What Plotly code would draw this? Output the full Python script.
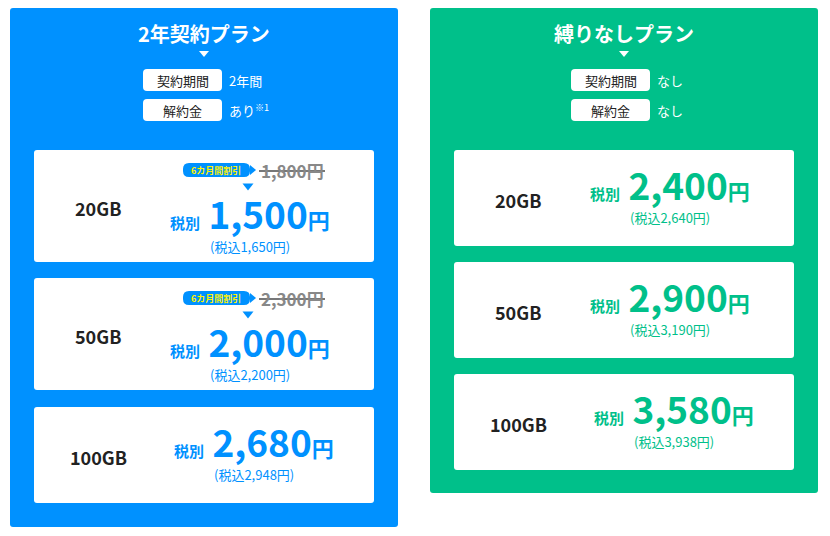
import plotly.graph_objects as go

BLUE = "#0091FF"
GREEN = "#00C08A"
FONT = "Noto Sans CJK JP"

plans = ["2年契約プラン", "縛りなしプラン"]
plan_colors = [BLUE, GREEN]
term_values = ["2年間", "なし"]
fee_values = ["あり<sup>※1</sup>", "なし"]
capacities = ["20GB", "50GB", "100GB"]
prices_2y = ["1,500", "2,000", "2,680"]
taxin_2y = ["1,650", "2,200", "2,948"]
regular_2y = ["1,800", "2,300", None]
prices_free = ["2,400", "2,900", "3,580"]
taxin_free = ["2,640", "3,190", "3,938"]

# panel geometry in pixels (x0, x1, y0, y1)
panels = [(10, 398, 8, 527), (430, 818, 8, 493)]
cards = [[(150, 262), (278, 390), (407, 503)],
         [(150, 246), (262, 358), (374, 470)]]

shapes, ann = [], []


def rect(x0, x1, y0, y1, color, r=3):
    path = (f"M{x0+r},{y0} L{x1-r},{y0} Q{x1},{y0} {x1},{y0+r} L{x1},{y1-r} Q{x1},{y1} {x1-r},{y1} "
            f"L{x0+r},{y1} Q{x0},{y1} {x0},{y1-r} L{x0},{y0+r} Q{x0},{y0} {x0+r},{y0} Z")
    shapes.append(dict(type="path", path=path, fillcolor=color, line_width=0, layer="below"))


def tri(cx, cy, w, h, color):
    shapes.append(dict(type="path", path=f"M{cx-w/2},{cy-h/2} L{cx+w/2},{cy-h/2} L{cx},{cy+h/2} Z",
                       fillcolor=color, line_width=0))


def text(x, y, s, size, color, anchor="center", bold=False):
    ann.append(dict(x=x, y=y, text=f"<b>{s}</b>" if bold else s, showarrow=False, xanchor=anchor,
                    yanchor="middle", font=dict(family=FONT, size=size, color=color)))


for p in range(2):
    x0, x1, y0, y1 = panels[p]
    col = plan_colors[p]
    cx = (x0 + x1) / 2
    rect(x0, x1, y0, y1, col)
    text(cx, 33, plans[p], 20, "white", bold=True)
    tri(cx, 54, 10, 6, "white")
    lx = 143 if p == 0 else 571
    for yy, lab, val in [(80, "契約期間", term_values[p]), (110, "解約金", fee_values[p])]:
        rect(lx, lx + 79, yy - 11, yy + 11, "white", r=4)
        text(lx + 39.5, yy, lab, 13, "#222")
        text(lx + 84, yy, val, 13, "white", anchor="left")
    prices = prices_2y if p == 0 else prices_free
    taxin = taxin_2y if p == 0 else taxin_free
    for i, (cy0, cy1) in enumerate(cards[p]):
        rect(x0 + 24, x1 - 24, cy0, cy1, "white", r=3)
        text(x0 + 88, (cy0 + cy1) / 2 + 2, capacities[i], 18, "#222", bold=True)
        pcx = x0 + 240 if i < 2 else x0 + 244
        has_reg = p == 0 and regular_2y[i] is not None
        py = cy0 + (63 if has_reg else 34)
        ann.append(dict(x=pcx, y=py, showarrow=False, xanchor="center", yanchor="middle",
                        text=f"<b><span style='font-size:15px'>税別</span> {prices[i]}"
                             f"<span style='font-size:22px'>円</span></b>",
                        font=dict(family=FONT, size=37, color=col)))
        text(pcx, py + 33, f"(税込{taxin[i]}円)", 13, col)
        if has_reg:
            by = cy0 + 20
            rect(183, 250, by - 7, by + 7, BLUE, r=6)
            shapes.append(dict(type="path", path=f"M250,{by-5} L256,{by} L250,{by+5} Z",
                               fillcolor=BLUE, line_width=0))
            text(216, by, "<b>6カ月間割引</b>", 9, "#FFF200")
            text(292, by, regular_2y[i] + "円", 17, "#888", bold=True)
            shapes.append(dict(type="line", x0=259, x1=325, y0=by + 1, y1=by + 1,
                               line=dict(color="#777", width=2)))
            tri(248, cy0 + 37, 11, 7, BLUE)

fig = go.Figure()
# the page adds an 8px body margin, so the axis range is offset to compensate
fig.update_layout(width=830, height=536, margin=dict(l=0, r=0, t=0, b=0),
                  plot_bgcolor="white", paper_bgcolor="white", shapes=shapes, annotations=ann,
                  xaxis=dict(range=[8, 838], visible=False, fixedrange=True),
                  yaxis=dict(range=[544, 8], visible=False, fixedrange=True), showlegend=False)
fig.write_html("out.html")
